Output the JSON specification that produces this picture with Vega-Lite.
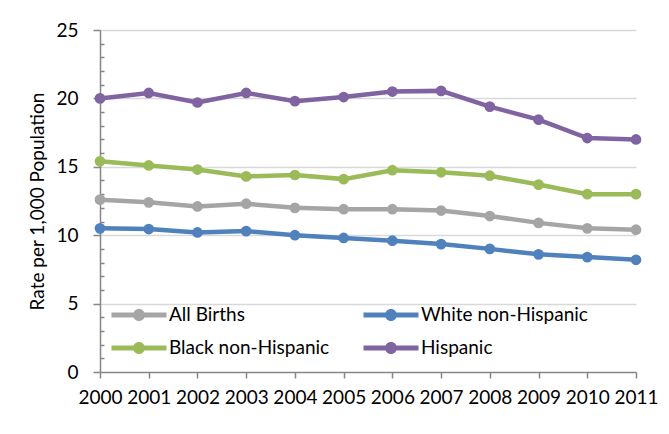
{
  "$schema": "https://vega.github.io/schema/vega-lite/v6.json",
  "width": 536,
  "height": 342,
  "autosize": {"type": "none"},
  "padding": {"left": 100, "top": 30, "right": 33, "bottom": 62},
  "background": "white",
  "config": {
    "view": {"stroke": null},
    "font": "Lato",
    "axis": {"labelFont": "Lato", "labelFontSize": 19, "labelColor": "#000000", "titleFont": "Lato", "titleFontSize": 19, "titleFontWeight": "normal", "titleColor": "#000000", "domainColor": "#868686", "domainWidth": 1.5, "tickColor": "#868686", "tickWidth": 1.5},
    "legend": {"labelFont": "Lato", "labelFontSize": 19, "labelColor": "#000000"}
  },
  "data": {"values": [
    {"year": 2000, "group": "All Births", "rate": 12.6},
    {"year": 2001, "group": "All Births", "rate": 12.4},
    {"year": 2002, "group": "All Births", "rate": 12.1},
    {"year": 2003, "group": "All Births", "rate": 12.3},
    {"year": 2004, "group": "All Births", "rate": 12.0},
    {"year": 2005, "group": "All Births", "rate": 11.9},
    {"year": 2006, "group": "All Births", "rate": 11.9},
    {"year": 2007, "group": "All Births", "rate": 11.8},
    {"year": 2008, "group": "All Births", "rate": 11.4},
    {"year": 2009, "group": "All Births", "rate": 10.9},
    {"year": 2010, "group": "All Births", "rate": 10.5},
    {"year": 2011, "group": "All Births", "rate": 10.4},
    {"year": 2000, "group": "White non-Hispanic", "rate": 10.5},
    {"year": 2001, "group": "White non-Hispanic", "rate": 10.45},
    {"year": 2002, "group": "White non-Hispanic", "rate": 10.2},
    {"year": 2003, "group": "White non-Hispanic", "rate": 10.3},
    {"year": 2004, "group": "White non-Hispanic", "rate": 10.0},
    {"year": 2005, "group": "White non-Hispanic", "rate": 9.8},
    {"year": 2006, "group": "White non-Hispanic", "rate": 9.6},
    {"year": 2007, "group": "White non-Hispanic", "rate": 9.35},
    {"year": 2008, "group": "White non-Hispanic", "rate": 9.0},
    {"year": 2009, "group": "White non-Hispanic", "rate": 8.6},
    {"year": 2010, "group": "White non-Hispanic", "rate": 8.4},
    {"year": 2011, "group": "White non-Hispanic", "rate": 8.2},
    {"year": 2000, "group": "Black non-Hispanic", "rate": 15.4},
    {"year": 2001, "group": "Black non-Hispanic", "rate": 15.1},
    {"year": 2002, "group": "Black non-Hispanic", "rate": 14.8},
    {"year": 2003, "group": "Black non-Hispanic", "rate": 14.3},
    {"year": 2004, "group": "Black non-Hispanic", "rate": 14.4},
    {"year": 2005, "group": "Black non-Hispanic", "rate": 14.1},
    {"year": 2006, "group": "Black non-Hispanic", "rate": 14.75},
    {"year": 2007, "group": "Black non-Hispanic", "rate": 14.6},
    {"year": 2008, "group": "Black non-Hispanic", "rate": 14.35},
    {"year": 2009, "group": "Black non-Hispanic", "rate": 13.7},
    {"year": 2010, "group": "Black non-Hispanic", "rate": 13.0},
    {"year": 2011, "group": "Black non-Hispanic", "rate": 13.0},
    {"year": 2000, "group": "Hispanic", "rate": 20.0},
    {"year": 2001, "group": "Hispanic", "rate": 20.4},
    {"year": 2002, "group": "Hispanic", "rate": 19.7},
    {"year": 2003, "group": "Hispanic", "rate": 20.4},
    {"year": 2004, "group": "Hispanic", "rate": 19.8},
    {"year": 2005, "group": "Hispanic", "rate": 20.1},
    {"year": 2006, "group": "Hispanic", "rate": 20.5},
    {"year": 2007, "group": "Hispanic", "rate": 20.55},
    {"year": 2008, "group": "Hispanic", "rate": 19.4},
    {"year": 2009, "group": "Hispanic", "rate": 18.45},
    {"year": 2010, "group": "Hispanic", "rate": 17.1},
    {"year": 2011, "group": "Hispanic", "rate": 17.0}
  ]},
  "encoding": {
    "x": {"field": "year", "type": "ordinal", "scale": {"type": "point", "padding": 0},
      "axis": {"title": null, "labelAngle": 0, "tickSize": 6, "labelPadding": 10, "grid": false}},
    "y": {"field": "rate", "type": "quantitative", "scale": {"domain": [0, 25], "nice": false, "zero": true},
      "axis": {"title": "Rate per 1,000 Population", "values": [0,1,2,3,4,5,6,7,8,9,10,11,12,13,14,15,16,17,18,19,20,21,22,23,24,25],
        "labelExpr": "datum.value % 5 === 0 ? datum.label : ''",
        "tickSize": {"condition": {"test": "datum.value % 5 === 0", "value": 7}, "value": -4},
        "labelPadding": 15, "titlePadding": 8,
        "grid": true, "gridColor": "#D9D9D9", "gridWidth": 1.5,
        "gridOpacity": {"condition": {"test": "datum.value % 5 === 0 && datum.value > 0", "value": 1}, "value": 0}}},
    "color": {"field": "group", "type": "nominal",
      "scale": {"domain": ["All Births", "White non-Hispanic", "Black non-Hispanic", "Hispanic"], "range": ["#A5A5A5", "#4F81BD", "#9BBB59", "#8064A2"]},
      "legend": {"title": null, "orient": "none", "direction": "horizontal", "legendX": 29, "legendY": 275, "columns": 2, "columnPadding": 33, "rowPadding": 13,
          "symbolType": "M-2.75,-0.25H2.75V0.25H-2.75Z M-0.6,0A0.6,0.6 0 1,1 0.6,0A0.6,0.6 0 1,1 -0.6,0Z",
          "symbolSize": 400, "symbolStrokeWidth": 0, "symbolOpacity": 1, "labelOffset": 20, "labelLimit": 400}}
  },
  "layer": [
    {"mark": {"type": "line", "strokeWidth": 4.5}},
    {"mark": {"type": "point", "filled": true, "opacity": 1, "size": 115}}
  ]
}
